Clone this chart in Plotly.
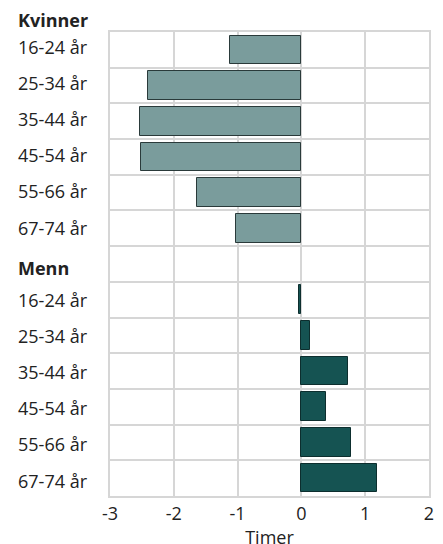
import plotly.graph_objects as go

age_groups = ["16-24 år", "25-34 år", "35-44 år", "45-54 år", "55-66 år", "67-74 år"]
kvinner_values = [-1.12, -2.41, -2.53, -2.51, -1.63, -1.03]
menn_values = [-0.03, 0.14, 0.73, 0.38, 0.78, 1.19]
group_labels = ["Kvinner", "Menn"]
x_ticks = [-3, -2, -1, 0, 1, 2]

kv_pos = list(range(0, 6))
menn_header_pos = 6
menn_pos = list(range(7, 13))

GRID = "#d6d6d6"
TXT = "#222222"
FONT = "Open Sans"
FS = 18

fig = go.Figure()
fig.add_trace(go.Bar(
    x=kvinner_values, y=kv_pos, orientation="h",
    marker=dict(color="#7a9c9c", line=dict(color="#2a3a3a", width=1)),
    width=0.8, showlegend=False, hoverinfo="x",
))
fig.add_trace(go.Bar(
    x=menn_values, y=menn_pos, orientation="h",
    marker=dict(color="#155352", line=dict(color="#0d2e2e", width=1)),
    width=0.8, showlegend=False, hoverinfo="x",
))

LX = -0.2947


def label_shift(i):
    # labels sit slightly off the row centres in the original layout
    return 2.9 - 0.44 * i


annotations = []
annotations.append(dict(text="<b>" + group_labels[0] + "</b>", xref="paper", yref="paper",
                        x=LX, y=1.0, yshift=12, xanchor="left", yanchor="middle",
                        showarrow=False, font=dict(family=FONT, size=FS, color=TXT)))
annotations.append(dict(text="<b>" + group_labels[1] + "</b>", xref="paper", yref="y",
                        x=LX, y=menn_header_pos, yshift=-4, xanchor="left", yanchor="middle",
                        showarrow=False, font=dict(family=FONT, size=FS, color=TXT)))
for pos_list in (kv_pos, menn_pos):
    for p, lab in zip(pos_list, age_groups):
        annotations.append(dict(text=lab, xref="paper", yref="y",
                                x=LX, y=p, yshift=label_shift(p), xanchor="left", yanchor="middle",
                                showarrow=False, font=dict(family=FONT, size=FS, color=TXT)))

fig.update_layout(
    width=443, height=544,
    margin=dict(l=102, r=22, t=24, b=55.5),
    paper_bgcolor="white", plot_bgcolor="white",
    font=dict(family=FONT, size=FS, color=TXT),
    annotations=annotations,
    bargap=0,
)
fig.update_xaxes(
    range=[-3, 2], tickvals=x_ticks, ticktext=[str(v) for v in x_ticks],
    showgrid=True, gridcolor=GRID, gridwidth=2,
    zeroline=False, showline=True, mirror=True, linecolor=GRID, linewidth=2,
    ticks="", tickfont=dict(family=FONT, size=FS, color=TXT),
    title=dict(text="Timer", font=dict(family=FONT, size=FS, color=TXT), standoff=1),
    fixedrange=True,
)
fig.update_yaxes(
    range=[12.5, -0.5], showticklabels=False, showgrid=False,
    zeroline=False, showline=True, mirror=True, linecolor=GRID, linewidth=2,
    ticks="",
    minor=dict(tick0=0.5, dtick=1, showgrid=True, gridcolor=GRID, gridwidth=2),
    fixedrange=True,
)

fig.write_html("out.html")
